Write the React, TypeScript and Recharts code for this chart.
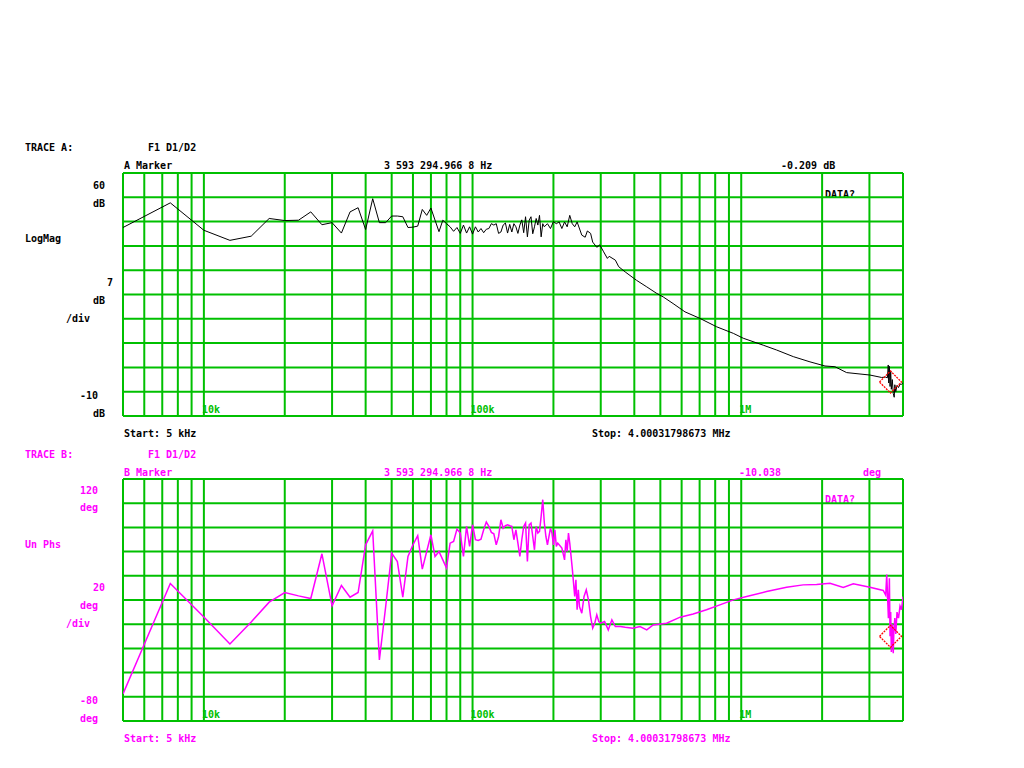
import React from "react";
import {
  LineChart,
  Line,
  XAxis,
  YAxis,
  CartesianGrid,
  ReferenceLine,
  ReferenceDot,
} from "recharts";

const GREEN = "#00c000";
const MAGENTA = "#ff00ff";
const FONT = "'DejaVu Sans Mono', monospace";

const START_HZ = 5000;
const STOP_HZ = 4000318;
const MARKER_HZ = 3593294.9668;
const MARKER_DB = -0.209;
const MARKER_DEG = -10.038;

// grid lines of the log frequency axis
const GRID_FREQ = [
  5000, 6000, 7000, 8000, 9000, 10000, 20000, 30000, 40000, 50000, 60000,
  70000, 80000, 90000, 100000, 200000, 300000, 400000, 500000, 600000,
  700000, 800000, 900000, 1000000, 2000000, 3000000, 4000318,
];
const DECADES = [10000, 100000, 1000000];
const DECADE_LABELS = ["10k", "100k", "1M"];

const MAG_TICKS = [-10, -3, 4, 11, 18, 25, 32, 39, 46, 53, 60];
const PHASE_TICKS = [-80, -60, -40, -20, 0, 20, 40, 60, 80, 100, 120];

// trace A: log magnitude (dB)
const MAG_FREQ = [
  5000, 7500, 10000, 12500, 15000, 17500, 20000, 22500, 25000, 27500,
  30000, 32500, 35000, 37500, 40000, 42500, 45000, 47500, 50000, 52500,
  55000, 57500, 60000, 62500, 65000, 67500, 70000, 72500, 75000, 77500,
  80000, 82500, 85000, 87500, 90000, 92500, 95000, 97500, 100000, 102500,
  105000, 107500, 110000, 112500, 115000, 117500, 120000, 122500, 125000, 127500,
  130000, 132500, 135000, 137500, 140000, 142500, 145000, 147500, 150000, 152500,
  155000, 157500, 160000, 162500, 165000, 167500, 170000, 172500, 175000, 177500,
  180000, 182500, 185000, 190000, 195000, 200000, 205000, 210000, 215000, 220000,
  225000, 230000, 235000, 240000, 245000, 255000, 262500, 267500, 275000, 280000,
  290000, 297500, 307500, 317500, 322500, 340000, 350000, 370000, 407500, 445000,
  485000, 512500, 557500, 617500, 702500, 810000, 935000, 1017500, 1207500, 1355000,
  1562500, 1802500, 2050000, 2232500, 2467500, 3012500, 3330000, 3450000, 3500000, 3525000,
  3540000, 3560000, 3580000, 3600000, 3620000, 3650000, 3680000, 3710000, 3730000, 3760000,
  3800000, 3850000, 3900000, 3950000, 4000318,
];
const MAG_DB = [
  44.3, 51.4, 43.5, 40.6, 41.8, 46.9, 46.3, 46.4, 48.8, 45.1,
  45.7, 42.7, 48.8, 50.0, 43.7, 52.6, 45.7, 45.7, 47.6, 47.6,
  47.4, 44.3, 44.4, 44.7, 49.5, 47.8, 49.9, 46.4, 43.1, 46.4,
  45.4, 44.5, 43.2, 44.3, 42.6, 45.0, 42.7, 44.5, 42.4, 44.5,
  43.0, 44.0, 42.8, 43.8, 44.0, 45.4, 45.0, 45.4, 42.6, 43.0,
  45.0, 45.6, 42.7, 45.2, 43.0, 45.4, 44.5, 42.6, 45.0, 46.5,
  42.8, 47.4, 41.6, 46.4, 47.4, 42.5, 44.5, 46.9, 45.0, 47.8,
  41.6, 45.4, 44.5, 45.4, 44.0, 46.0, 45.4, 45.9, 44.0, 45.9,
  44.5, 47.8, 45.4, 44.5, 45.9, 42.1, 41.5, 43.3, 42.6, 40.1,
  38.6, 39.3, 37.3, 35.4, 36.0, 34.9, 33.0, 31.5, 29.1, 27.2,
  25.3, 24.3, 22.4, 20.0, 18.1, 15.7, 13.8, 12.4, 10.4, 9.0,
  7.1, 5.6, 4.4, 4.2, 2.5, 1.8, 1.1, 1.2, 1.0, 4.7,
  -0.5, 4.3, -1.5, 3.0, -2.3, 0.5, -3.5, -4.6, -1.0, -3.0,
  -1.2, -1.8, -0.8, -0.9, -0.4,
];

// trace B: unwrapped phase (deg)
const PHASE_FREQ = [
  5000, 7500, 10000, 12500, 15000, 17500, 20000, 22500, 25000, 27500,
  30000, 32500, 35000, 37500, 40000, 42500, 45000, 47500, 50000, 52500,
  55000, 57500, 60000, 62500, 65000, 67500, 70000, 72500, 75000, 77500,
  80000, 82500, 85000, 87500, 90000, 92500, 95000, 97500, 100000, 102500,
  105000, 107500, 110000, 112500, 115000, 117500, 120000, 122500, 125000, 127500,
  130000, 132500, 135000, 137500, 140000, 142500, 145000, 147500, 150000, 152500,
  155000, 157500, 160000, 162500, 165000, 167500, 170000, 172500, 175000, 177500,
  180000, 182500, 185000, 187500, 190000, 192500, 195000, 197500, 200000, 202500,
  205000, 207500, 210000, 215000, 220000, 222500, 225000, 227500, 230000, 235000,
  240000, 242500, 245000, 247500, 250000, 255000, 260000, 265000, 270000, 275000,
  280000, 285000, 290000, 295000, 300000, 310000, 320000, 330000, 340000, 355000,
  370000, 395000, 420000, 445000, 470000, 527500, 592500, 662500, 742500, 832500,
  935000, 1047500, 1242500, 1475000, 1700000, 1907500, 2140000, 2397500, 2612500, 3012500,
  3377500, 3450000, 3480000, 3530000, 3560000, 3580000, 3600000, 3620000, 3650000, 3680000,
  3700000, 3730000, 3760000, 3800000, 3850000, 3900000, 3950000, 4000318,
];
const PHASE_DEG = [
  -57.7, 33.6, 5.9, -16.3, 1.9, 18.2, 26.2, 23.4, 21.2, 58.2,
  15.2, 32.0, 22.3, 26.2, 65.6, 77.2, -29.5, 14.6, 58.7, 51.8,
  22.3, 56.0, 65.6, 73.1, 45.5, 60.1, 73.9, 56.0, 60.1, 53.2,
  46.3, 67.0, 68.4, 78.6, 75.3, 56.0, 80.8, 64.3, 82.2, 69.8,
  69.2, 70.3, 78.0, 84.4, 80.8, 75.9, 74.7, 65.6, 72.5, 86.3,
  79.4, 81.4, 82.2, 81.4, 80.8, 69.8, 78.0, 67.0, 56.0, 69.8,
  80.8, 83.6, 51.8, 82.2, 83.6, 72.5, 61.5, 80.8, 75.3, 76.7,
  89.1, 102.9, 83.6, 72.5, 65.6, 72.5, 79.4, 75.3, 65.6, 78.0,
  64.3, 67.0, 65.6, 62.9, 53.2, 69.8, 60.1, 75.3, 67.0, 46.3,
  22.9, 36.7, 11.9, 28.4, 14.6, 9.1, 22.9, 28.4, 20.1, 6.3,
  -3.3, 0.8, 7.7, 2.2, 0.8, 2.2, -4.7, 3.6, -1.9, -1.9,
  -2.5, -3.3, -2.0, -4.7, -0.6, 0.8, 5.8, 8.5, 11.9, 16.0,
  20.1, 22.9, 27.0, 30.6, 32.5, 32.8, 33.9, 30.3, 33.4, 30.6,
  27.9, 24.0, 41.1, 5.0, 38.0, -10.0, 10.0, -22.9, 0.0, -24.0,
  -5.0, 5.0, -8.0, 10.0, 5.0, 15.0, 12.0, 22.9,
];

const magData = MAG_FREQ.map((f, i) => ({ f, v: MAG_DB[i] }));
const phaseData = PHASE_FREQ.map((f, i) => ({ f, v: PHASE_DEG[i] }));

function Diamond(props: any) {
  const { cx, cy } = props;
  const r = 11;
  return (
    <path
      d={`M${cx - r},${cy} L${cx},${cy - r} L${cx + r},${cy} L${cx},${cy + r} Z`}
      fill="none"
      stroke="#ff0000"
      strokeWidth={1.3}
      strokeDasharray="2 1"
    />
  );
}

const decadeLabel = (text: string) => (props: any) => {
  const vb = props.viewBox || {};
  return (
    <text
      x={vb.x - 2}
      y={vb.y + vb.height - 3}
      fill={GREEN}
      fontFamily={FONT}
      fontWeight="bold"
      fontSize={10}
    >
      {text}
    </text>
  );
};

function Panel({
  data,
  ticks,
  domain,
  color,
  width,
  markerValue,
  top,
  height,
  margin,
}: any) {
  return (
    <div style={{ position: "absolute", left: 0, top }}>
      <LineChart width={1024} height={height} data={data} margin={margin}>
        <XAxis
          dataKey="f"
          type="number"
          scale="log"
          domain={[START_HZ, STOP_HZ]}
          ticks={GRID_FREQ}
          interval={0}
          allowDataOverflow
          hide
        />
        <YAxis
          type="number"
          domain={domain}
          ticks={ticks}
          interval={0}
          allowDataOverflow
          hide
        />
        <CartesianGrid stroke={GREEN} strokeWidth={2} />
        {DECADES.map((d, i) => (
          <ReferenceLine
            key={d}
            x={d}
            stroke="none"
            label={decadeLabel(DECADE_LABELS[i])}
          />
        ))}
        <Line
          type="linear"
          dataKey="v"
          stroke={color}
          strokeWidth={width}
          dot={false}
          isAnimationActive={false}
        />
        <ReferenceDot
          x={MARKER_HZ}
          y={markerValue}
          r={11}
          shape={Diamond}
          ifOverflow="visible"
        />
      </LineChart>
    </div>
  );
}

export default function App() {
  const t = (x: number, y: number, s: string, c: string) => (
    <text x={x} y={y} fill={c}>
      {s}
    </text>
  );
  return (
    <div
      style={{
        position: "absolute",
        left: 0,
        top: 0,
        width: 1024,
        height: 768,
        background: "#ffffff",
        overflow: "hidden",
      }}
    >
      <svg
        width={1024}
        height={768}
        style={{ position: "absolute", left: 0, top: 0 }}
        fontFamily={FONT}
        fontWeight="bold"
        fontSize={10}
      >
        {t(25, 151, "TRACE A:", "#000")}
        {t(148, 151, "F1 D1/D2", "#000")}
        {t(124, 169, "A Marker", "#000")}
        {t(384, 169, "3 593 294.966 8 Hz", "#000")}
        {t(781, 169, "-0.209 dB", "#000")}
        {t(825, 198, "DATA?", "#000")}
        {t(93, 189, "60", "#000")}
        {t(93, 207, "dB", "#000")}
        {t(25, 242, "LogMag", "#000")}
        {t(107, 286, "7", "#000")}
        {t(93, 304, "dB", "#000")}
        {t(66, 322, "/div", "#000")}
        {t(80, 399, "-10", "#000")}
        {t(93, 417, "dB", "#000")}
        {t(124, 437, "Start: 5 kHz", "#000")}
        {t(592, 437, "Stop: 4.00031798673 MHz", "#000")}

        {t(25, 458, "TRACE B:", MAGENTA)}
        {t(148, 458, "F1 D1/D2", MAGENTA)}
        {t(124, 476, "B Marker", MAGENTA)}
        {t(384, 476, "3 593 294.966 8 Hz", MAGENTA)}
        {t(739, 476, "-10.038", MAGENTA)}
        {t(863, 476, "deg", MAGENTA)}
        {t(825, 503, "DATA?", MAGENTA)}
        {t(80, 494, "120", MAGENTA)}
        {t(80, 511, "deg", MAGENTA)}
        {t(25, 548, "Un Phs", MAGENTA)}
        {t(93, 591, "20", MAGENTA)}
        {t(80, 609, "deg", MAGENTA)}
        {t(66, 627, "/div", MAGENTA)}
        {t(80, 704, "-80", MAGENTA)}
        {t(80, 722, "deg", MAGENTA)}
        {t(124, 742, "Start: 5 kHz", MAGENTA)}
        {t(592, 742, "Stop: 4.00031798673 MHz", MAGENTA)}
      </svg>

      <Panel
        data={magData}
        ticks={MAG_TICKS}
        domain={[-10, 60]}
        color="#000000"
        width={1}
        markerValue={MARKER_DB}
        top={0}
        height={440}
        margin={{ top: 173, right: 121, bottom: 24, left: 123 }}
      />
      <Panel
        data={phaseData}
        ticks={PHASE_TICKS}
        domain={[-80, 120]}
        color={MAGENTA}
        width={1.5}
        markerValue={MARKER_DEG}
        top={440}
        height={328}
        margin={{ top: 39, right: 121, bottom: 47, left: 123 }}
      />
    </div>
  );
}
